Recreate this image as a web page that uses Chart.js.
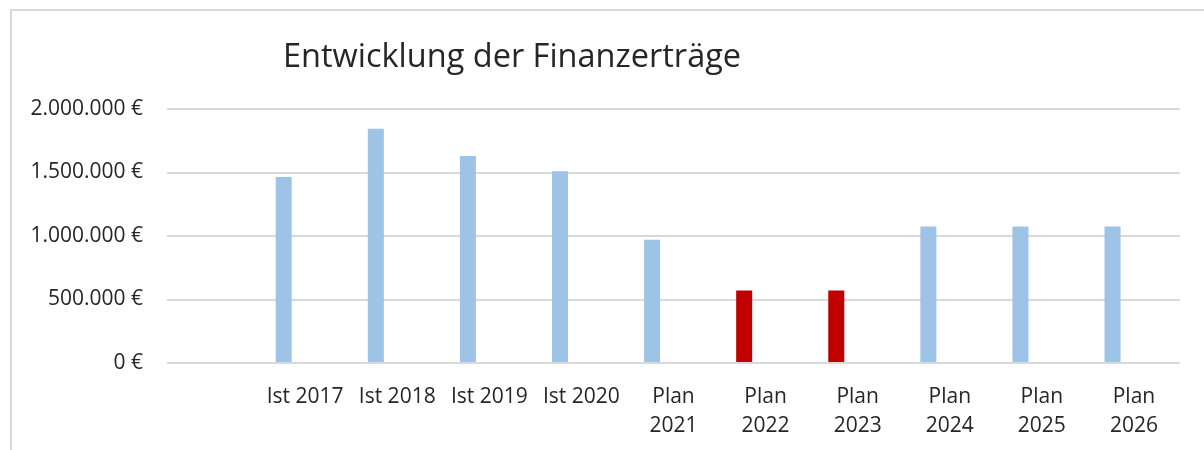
<!DOCTYPE html>
<html lang="de">
<head>
<meta charset="utf-8">
<title>Entwicklung der Finanzerträge</title>
<script src="https://cdn.jsdelivr.net/npm/chart.js@4/dist/chart.umd.min.js"></script>
<style>
  html, body { margin: 0; padding: 0; background: #fff; }
  canvas { display: block; }
</style>
</head>
<body>
<canvas id="chart" width="1204" height="450"></canvas>
<script>
// Werte
const categories = ["", "Ist 2017", "Ist 2018", "Ist 2019", "Ist 2020",
  "Plan 2021", "Plan 2022", "Plan 2023", "Plan 2024", "Plan 2025", "Plan 2026"];
const ertraege = [null, 1465000, 1845000, 1630000, 1510000,
  970000, 570000, 570000, 1075000, 1075000, 1075000];
const leereReihe = [null, null, null, null, null, null, null, null, null, null, null];
const hervorgehoben = ["Plan 2022", "Plan 2023"];
const yTicks = [0, 500000, 1000000, 1500000, 2000000];

const titel = "Entwicklung der Finanzerträge";

const formatEuro = (v) =>
  String(Math.round(v)).replace(/\B(?=(\d{3})+(?!\d))/g, ".") + " €";

Chart.defaults.font.family = "'Open Sans', sans-serif";
Chart.defaults.color = "#262626";

const rahmenUndTitel = {
  id: "rahmenUndTitel",
  beforeDraw(chart) {
    const ctx = chart.ctx;
    ctx.save();
    ctx.strokeStyle = "#d9d9d9";
    ctx.lineWidth = 2;
    ctx.strokeRect(11, 10, 1400, 600);
    ctx.restore();
  },
  afterDraw(chart) {
    const ctx = chart.ctx;
    ctx.save();
    ctx.font = "32.5px 'Open Sans', sans-serif";
    ctx.fillStyle = "#262626";
    ctx.textBaseline = "alphabetic";
    ctx.textAlign = "left";
    ctx.fillText(titel, 283, 67);
    ctx.restore();
  },
};

new Chart(document.getElementById("chart").getContext("2d"), {
  type: "bar",
  data: {
    labels: categories.map((c) => (c.startsWith("Plan") ? c.split(" ") : c)),
    datasets: [
      {
        label: "Finanzerträge",
        data: ertraege,
        backgroundColor: categories.map((c) =>
          hervorgehoben.includes(c) ? "#c00000" : "#9dc3e6"
        ),
        categoryPercentage: 0.93,
        barPercentage: 0.374,
      },
      {
        label: "Reihe 2",
        data: leereReihe,
        backgroundColor: "#9dc3e6",
        categoryPercentage: 0.93,
        barPercentage: 0.374,
      },
    ],
  },
  options: {
    responsive: false,
    animation: false,
    layout: { padding: { top: 109, right: 24, bottom: 0, left: 0 } },
    plugins: {
      legend: { display: false },
      title: { display: false },
      tooltip: { enabled: false },
    },
    scales: {
      x: {
        grid: { display: false },
        border: { display: false },
        ticks: {
          font: { size: 21, lineHeight: "29px" },
          padding: 12,
          maxRotation: 0,
          autoSkip: false,
        },
        afterFit(scale) {
          scale.height = 87;
        },
      },
      y: {
        min: 0,
        max: 2000000,
        grid: { color: "#d9d9d9", lineWidth: 2, drawTicks: false },
        border: { display: false },
        afterBuildTicks(scale) {
          scale.ticks = yTicks.map((v) => ({ value: v }));
        },
        ticks: {
          font: { size: 21 },
          padding: 24,
          callback: (v) => formatEuro(v),
        },
        afterFit(scale) {
          scale.width = 167;
        },
      },
    },
  },
  plugins: [rahmenUndTitel],
});
</script>
</body>
</html>
